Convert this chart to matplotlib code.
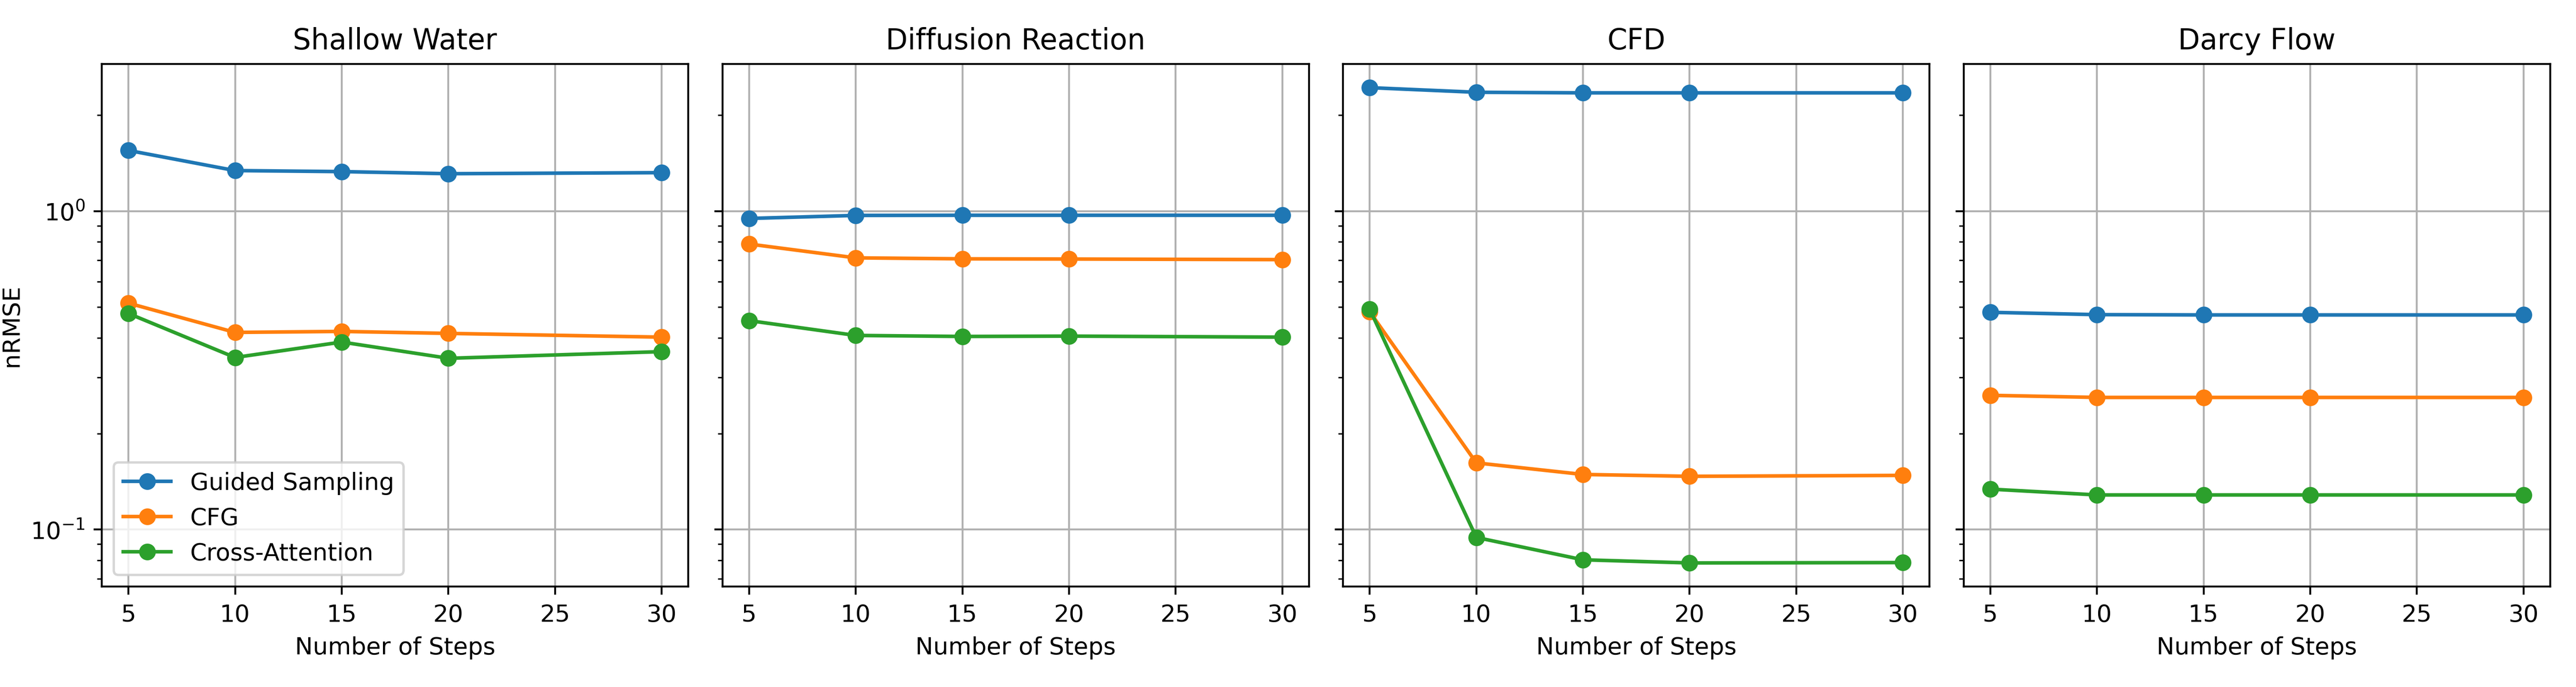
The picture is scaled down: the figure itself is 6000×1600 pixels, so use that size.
import matplotlib
matplotlib.use('Agg')
import matplotlib.pyplot as plt

steps = [5, 10, 15, 20, 30]
methods = ['Guided Sampling', 'CFG', 'Cross-Attention']
titles = ['Shallow Water', 'Diffusion Reaction', 'CFD', 'Darcy Flow']

# nRMSE per dataset, one list per method
shallow_water = [
    [1.55, 1.34, 1.33, 1.31, 1.32],
    [0.514, 0.416, 0.419, 0.413, 0.402],
    [0.477, 0.347, 0.388, 0.345, 0.362],
]
diffusion_reaction = [
    [0.948, 0.969, 0.970, 0.970, 0.970],
    [0.788, 0.713, 0.708, 0.707, 0.704],
    [0.453, 0.407, 0.404, 0.405, 0.402],
]
cfd = [
    [2.44, 2.36, 2.35, 2.35, 2.35],
    [0.483, 0.162, 0.149, 0.147, 0.148],
    [0.492, 0.0945, 0.0804, 0.0786, 0.0788],
]
darcy_flow = [
    [0.481, 0.473, 0.472, 0.472, 0.472],
    [0.264, 0.260, 0.260, 0.260, 0.260],
    [0.134, 0.1285, 0.1285, 0.1285, 0.1285],
]
datasets = [shallow_water, diffusion_reaction, cfd, darcy_flow]

fig, axes = plt.subplots(1, 4, figsize=(15, 4), sharey=True)

for ax, title, data in zip(axes, titles, datasets):
    for name, vals in zip(methods, data):
        ax.plot(steps, vals, marker='o', label=name)
    ax.set_yscale('log')
    ax.set_title(title)
    ax.set_xlabel('Number of Steps')
    ax.grid(True)

axes[0].set_ylabel('nRMSE', labelpad=3)
axes[0].legend(loc='lower left')

fig.subplots_adjust(left=0.0395, right=0.990, top=0.907, bottom=0.146, wspace=0.058)
plt.savefig('out.png', dpi=400)
